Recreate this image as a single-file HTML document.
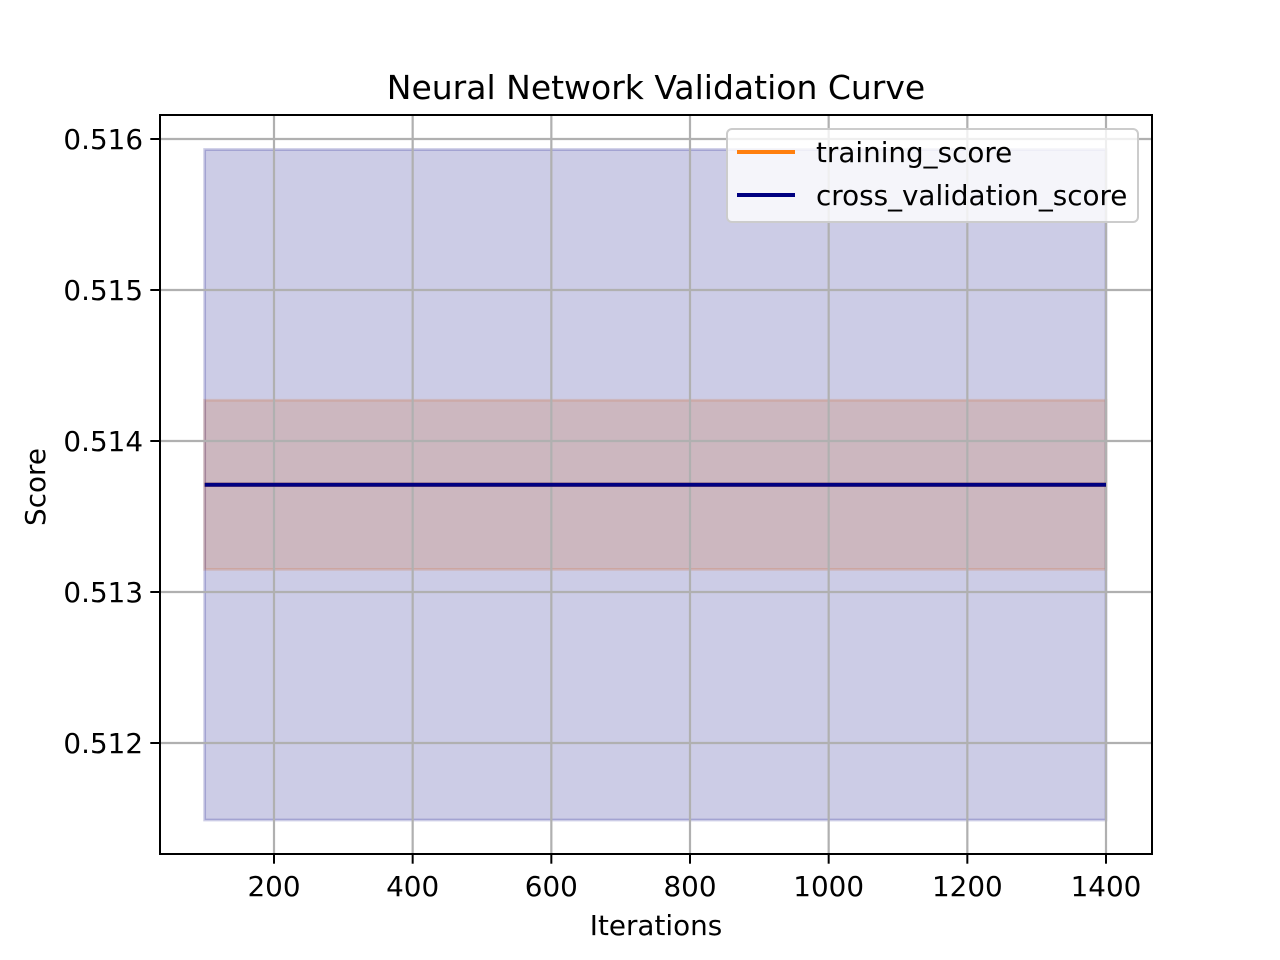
<!DOCTYPE html>
<html><head><meta charset="utf-8"><style>
html,body{margin:0;padding:0;background:#fff;}
svg{display:block;font-family:"DejaVu Sans","Liberation Sans",sans-serif;}
</style></head><body>
<svg id="chart" width="1280" height="960" viewBox="0 0 1280 960" xmlns="http://www.w3.org/2000/svg">
<rect width="1280" height="960" fill="#fff"/>
<g id="bands"></g>
<g id="grid"></g>
<g id="marks"></g>
<g id="axes"></g>
<text x="656" y="99" font-size="33" text-anchor="middle">Neural Network Validation Curve</text>
<text x="656" y="935" font-size="27.8" text-anchor="middle">Iterations</text>
<text x="45" y="487" font-size="27.8" text-anchor="middle" transform="rotate(-90 45 487)">Score</text>
<g>
<rect x="727" y="129" width="411" height="93" rx="5" fill="#fff" fill-opacity="0.8" stroke="#ccc" stroke-width="2"/>
<line x1="737" y1="152" x2="795" y2="152" stroke="#ff7f0e" stroke-width="4"/>
<text x="816" y="162" font-size="27.8">training_score</text>
<line x1="737" y1="195" x2="795" y2="195" stroke="#000080" stroke-width="4"/>
<text x="816" y="205" font-size="27.8">cross_validation_score</text>
</g>
</svg>
<script>
const iterations=[100,200,300,400,500,600,700,800,900,1000,1100,1200,1300,1400];
const trainMean=[0.51371,0.51371,0.51371,0.51371,0.51371,0.51371,0.51371,0.51371,0.51371,0.51371,0.51371,0.51371,0.51371,0.51371];
const trainStd=[0.00056,0.00056,0.00056,0.00056,0.00056,0.00056,0.00056,0.00056,0.00056,0.00056,0.00056,0.00056,0.00056,0.00056];
const cvMean=[0.51371,0.51371,0.51371,0.51371,0.51371,0.51371,0.51371,0.51371,0.51371,0.51371,0.51371,0.51371,0.51371,0.51371];
const cvStd=[0.00222,0.00222,0.00222,0.00222,0.00222,0.00222,0.00222,0.00222,0.00222,0.00222,0.00222,0.00222,0.00222,0.00222];
const xTicks=[200,400,600,800,1000,1200,1400];
const yTicks=[0.512,0.513,0.514,0.515,0.516];
const yTickLabels=["0.512","0.513","0.514","0.515","0.516"];

const L=160,R=1152,T=115,B=854;
const xScale=v=>274+(v-200)*(1106-274)/1200;
const yScale=v=>743-(v-0.512)*151000;
const NS="http://www.w3.org/2000/svg";
function mk(tag,attrs,parent){const e=document.createElementNS(NS,tag);for(const k in attrs)e.setAttribute(k,attrs[k]);parent.appendChild(e);return e;}
const grid=document.getElementById('grid'),marks=document.getElementById('marks'),axes=document.getElementById('axes'),bands=document.getElementById('bands');

xTicks.forEach(t=>{const x=xScale(t);
 const g=mk('line',{x1:x,x2:x,y1:T,y2:B,stroke:'#b0b0b0','stroke-width':2.2},grid);
 
 
 const tk=mk('line',{x1:x,x2:x,y1:B,y2:B+9.7,stroke:'#000','stroke-width':2},axes);
 
 
 const tx=mk('text',{x:x,y:B+42,'font-size':27.8,'text-anchor':'middle'},axes);tx.textContent=t;
 
 
});
yTicks.forEach((t,i)=>{const y=yScale(t);
 const g=mk('line',{x1:L,x2:R,y1:y,y2:y,stroke:'#b0b0b0','stroke-width':2.2},grid);
 
 
 const tk=mk('line',{x1:L-9.7,x2:L,y1:y,y2:y,stroke:'#000','stroke-width':2},axes);
 
 
 const tx=mk('text',{x:L-17,y:y+10,'font-size':27.8,'text-anchor':'end'},axes);tx.textContent=yTickLabels[i];
 
 
});
const sp=mk('rect',{x:L,y:T,width:R-L,height:B-T,fill:'none',stroke:'#000','stroke-width':2},axes);



function band(mean,std,color,name){
 let up=iterations.map((x,i)=>xScale(x)+','+yScale(mean[i]+std[i]));
 let dn=iterations.map((x,i)=>xScale(x)+','+yScale(mean[i]-std[i])).reverse();
 const p=mk('polygon',{points:up.concat(dn).join(' '),fill:color,'fill-opacity':0.2,stroke:color,'stroke-opacity':0.2,'stroke-width':2.8},bands);
 
 
}
function line(mean,color,name){
 const p=mk('polyline',{points:iterations.map((x,i)=>xScale(x)+','+yScale(mean[i])).join(' '),fill:'none',stroke:color,'stroke-width':4},marks);
 
 
}
band(trainMean,trainStd,'#ff7f0e','training-score-band');
band(cvMean,cvStd,'#000080','cv-score-band');
line(trainMean,'#ff7f0e','training-score-line');
line(cvMean,'#000080','cv-score-line');
</script>
</body></html>
